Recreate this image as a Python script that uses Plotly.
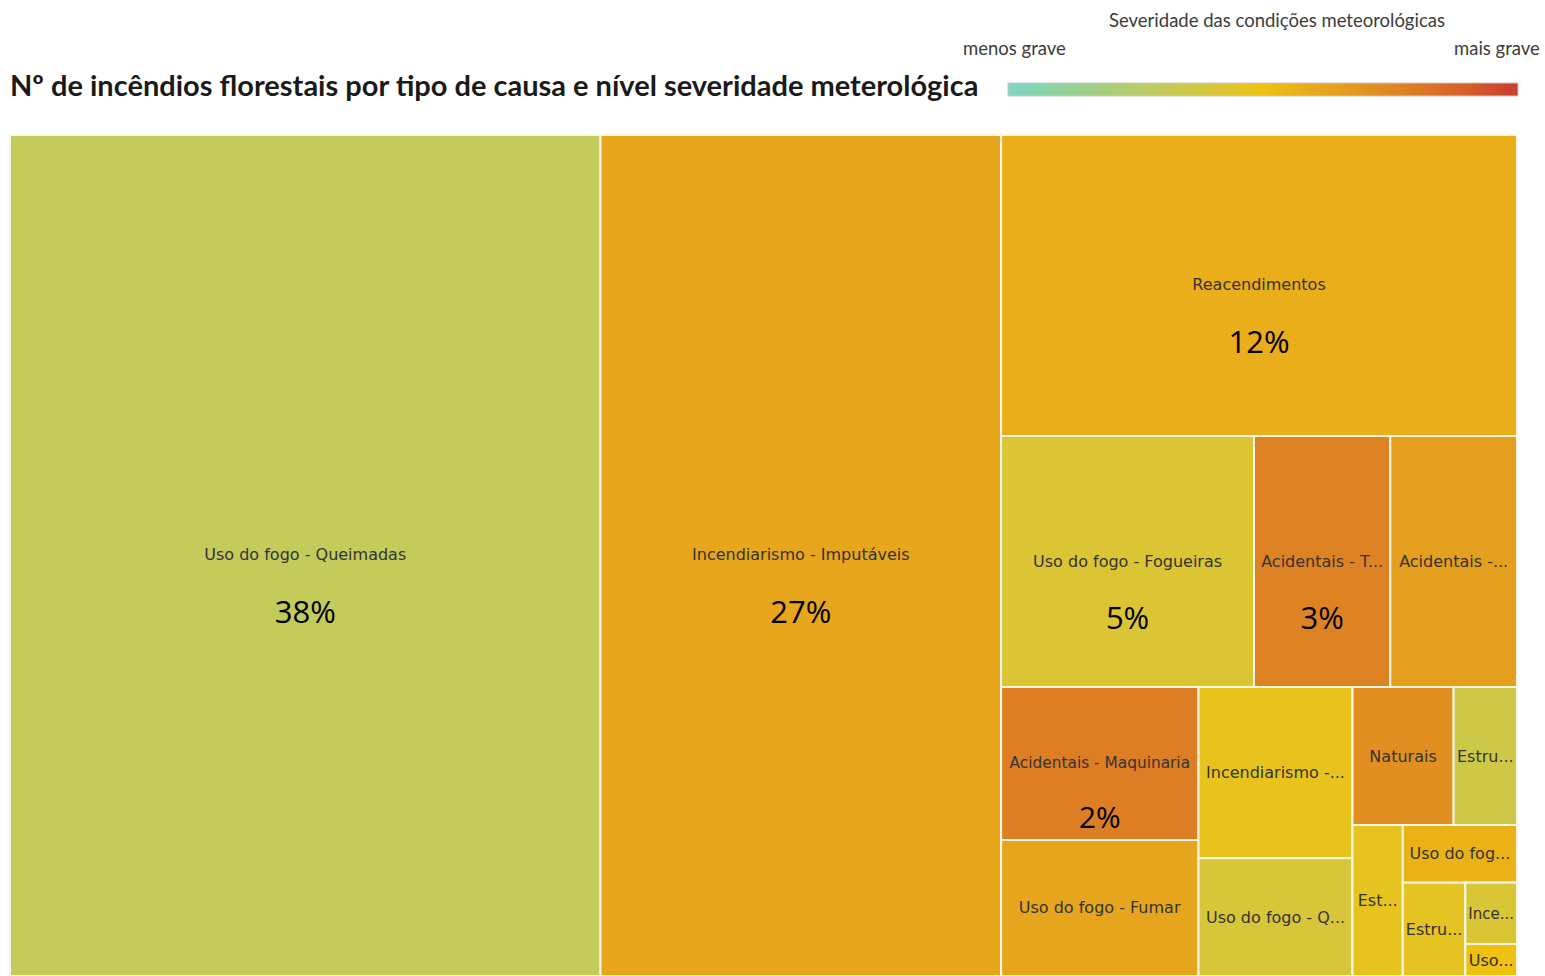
import plotly.graph_objects as go

# ---------------- Data ----------------
# Draw order: leaves plus layout groups (groups keep the tile arrangement)
ids = ["queimadas", "imputaveis", "g_dir",
       "reacendimentos", "g_meio",
       "fogueiras", "acid_t", "acid_o",
       "g_base", "g_base_1", "maquinaria", "fumar",
       "g_base_2", "inimputaveis", "uso_q",
       "g_base_3", "g_base_3a", "naturais", "estru_1",
       "g_base_3b", "est_2", "g_base_3c", "uso_fog",
       "g_base_3d", "estru_3", "g_base_3e", "ince", "uso"]
pais = ["", "", "",
        "g_dir", "g_dir",
        "g_meio", "g_meio", "g_meio",
        "g_dir", "g_base", "g_base_1", "g_base_1",
        "g_base", "g_base_2", "g_base_2",
        "g_base", "g_base_3", "g_base_3a", "g_base_3a",
        "g_base_3", "g_base_3b", "g_base_3b", "g_base_3c",
        "g_base_3c", "g_base_3d", "g_base_3d", "g_base_3e", "g_base_3e"]
rotulos = ["Uso do fogo - Queimadas", "Incendiarismo - Imputáveis", "",
           "Reacendimentos", "",
           "Uso do fogo - Fogueiras", "Acidentais - T...", "Acidentais -...",
           "", "", "Acidentais - Maquinaria", "Uso do fogo - Fumar",
           "", "Incendiarismo -...", "Uso do fogo - Q...",
           "", "", "Naturais", "Estru...",
           "", "Est...", "", "Uso do fog...",
           "", "Estru...", "", "Ince...", "Uso..."]
# share of the number of fires (%), 0 for layout groups
quota = [39.18, 26.58, 0,
         12.25, 0,
         5.01, 2.70, 2.51,
         0, 0, 2.38, 2.12,
         0, 2.08, 1.43,
         0, 0, 1.10, 0.69,
         0, 0.60, 0, 0.52,
         0, 0.46, 0, 0.25, 0.13]
# severity of the meteorological conditions (0 = less severe, 100 = more severe)
severidade = [30, 61, None,
              57.6, None,
              41.5, 77, 64.5,
              None, None, 79, 61.5,
              None, 47, 40,
              None, None, 72, 35.5,
              None, 46.6, None, 56,
              None, 46, None, 41, 50]
# percentage labels shown in the picture
percentagens = ["38%", "27%", "",
                "12%", "",
                "5%", "3%", "",
                "", "", "2%", "",
                "", "", "",
                "", "", "", "",
                "", "", "", "",
                "", "", "", "", ""]

legenda_titulo = "Severidade das condições meteorológicas"
legenda_extremos = ["menos grave", "mais grave"]

escala = [[0.0, "#7dd7c5"], [0.2, "#a9cf7a"], [0.3, "#c3cb5a"], [0.4, "#d7c63a"],
          [0.5, "#efc112"], [0.6, "#e8a81c"], [0.7, "#e29420"], [0.8, "#dc7c24"],
          [0.9, "#d55e2a"], [1.0, "#cc3c30"]]

# ---------------- Derived ----------------
filhos = {}
for i, p in zip(ids, pais):
    filhos.setdefault(p, []).append(i)
idx = {k: n for n, k in enumerate(ids)}


def folhas(node):
    ch = filhos.get(node, [])
    if not ch:
        return [node]
    out = []
    for c in ch:
        out += folhas(c)
    return out


cores = []
for k in ids:
    s = severidade[idx[k]]
    if s is None:
        fl = folhas(k)
        tot = sum(quota[idx[f]] for f in fl)
        s = sum(quota[idx[f]] * severidade[idx[f]] for f in fl) / tot
    cores.append(s)

texto = []
for r, p in zip(rotulos, percentagens):
    if not r:
        texto.append("")
    elif p:
        texto.append("<span style='font-size:20px'>&nbsp;</span><br><br><br>" + r + "<br><br><br>"
                     "<span style='font-size:31px;font-family:Open Sans;color:#000000'>"
                     + p + "</span>")
    else:
        texto.append(r)

W, H = 1545, 976
txt_cor = "#3c3c3c"

fig = go.Figure(go.Treemap(
    ids=ids,
    parents=pais,
    labels=rotulos,
    values=quota,
    text=texto,
    texttemplate="%{text}",
    textposition="middle center",
    textfont=dict(family="DejaVu Sans", size=16, color="#333333"),
    branchvalues="remainder",
    sort=False,
    tiling=dict(packing="slice-dice", pad=0),
    pathbar=dict(visible=False),
    marker=dict(
        colors=cores,
        colorscale=escala,
        cmin=0, cmax=100,
        pad=dict(t=0, l=0, r=0, b=0),
        line=dict(width=2, color="#faf6e6"),
        showscale=True,
        colorbar=dict(
            orientation="h",
            xref="container", yref="container",
            x=1008 / W, xanchor="left",
            y=1 - 97 / H, yanchor="bottom",
            len=510, lenmode="pixels",
            thickness=13, thicknessmode="pixels",
            xpad=0, ypad=0,
            outlinewidth=1, outlinecolor="#c8c8c8",
            showticklabels=False,
            ticks="",
        ),
    ),
    domain=dict(x=[10 / W, 1517 / W], y=[0, 1 - 135 / H]),
    hoverinfo="label+value",
))

fig.update_layout(
    width=W, height=H,
    margin=dict(l=0, r=0, t=0, b=0, autoexpand=False),
    paper_bgcolor="white",
    title=dict(text="Nº de incêndios florestais por tipo de causa e nível severidade meterológica",
               x=10 / W, xref="container", xanchor="left",
               y=1 - 86 / H, yref="container", yanchor="middle",
               font=dict(family="Lato", size=29, weight=700, color="#1a1a1a")),
    annotations=[
        dict(text=legenda_titulo, xref="paper", yref="paper",
             x=1277 / W, y=1 - 20 / H, xanchor="center", yanchor="middle",
             showarrow=False, font=dict(family="Lato", size=18.5, color=txt_cor)),
        dict(text=legenda_extremos[0], xref="paper", yref="paper",
             x=1014 / W, y=1 - 48 / H, xanchor="center", yanchor="middle",
             showarrow=False, font=dict(family="Lato", size=18.5, color=txt_cor)),
        dict(text=legenda_extremos[1], xref="paper", yref="paper",
             x=1497 / W, y=1 - 48 / H, xanchor="center", yanchor="middle",
             showarrow=False, font=dict(family="Lato", size=18.5, color=txt_cor)),
    ],
)

fig.write_html("out.html",
               config={"displayModeBar": False},
               post_script="document.body.style.margin='0px';document.body.style.overflow='hidden';")
